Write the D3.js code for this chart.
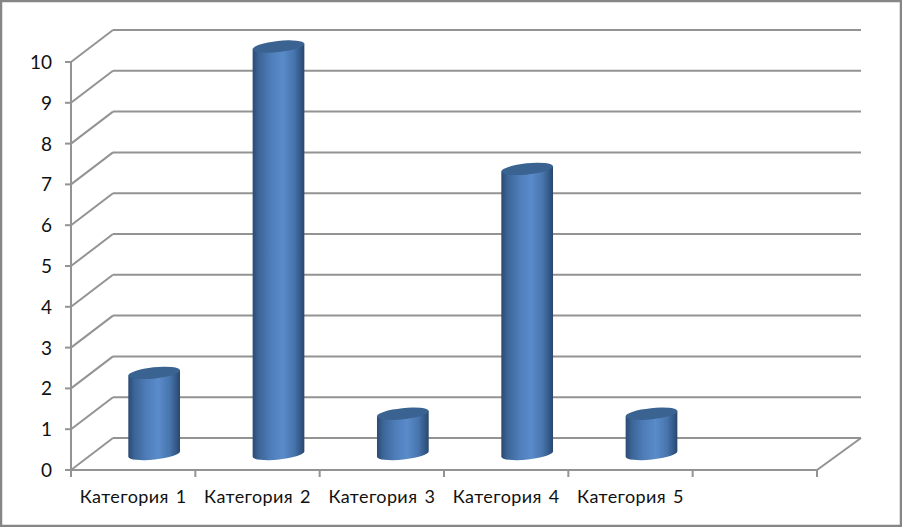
<!DOCTYPE html>
<html><head><meta charset="utf-8">
<script src="https://cdnjs.cloudflare.com/ajax/libs/d3/7.8.5/d3.min.js"></script>
<style>html,body{margin:0;padding:0;background:#fff}svg{display:block}text{font-family:Lato,"Open Sans",sans-serif;fill:#111}</style>
</head><body><svg id="c" width="902" height="527"></svg>
<script>
const categories=["Категория 1","Категория 2","Категория 3","Категория 4","Категория 5",""];
const values=[2,10,1,7,1];
const yTicks=[0,1,2,3,4,5,6,7,8,9,10];
const W=902,H=527,left=71,right=817,y0=470,y10=62,dx=42,dy=32,line="#939393";
const svg=d3.select("#c");
const x=d3.scaleBand().domain(categories.map((c,i)=>i)).range([left,right]);
const y=d3.scaleLinear().domain([0,10]).range([y0,y10]);
const defs=svg.append("defs");
const g=defs.append("linearGradient").attr("id","cyl");
[[0,"#2b4a73"],[.12,"#3c6597"],[.35,"#4e7db9"],[.58,"#5a8bca"],[.8,"#4775ad"],[.94,"#315684"],[1,"#274769"]].forEach(s=>g.append("stop").attr("offset",s[0]).attr("stop-color",s[1]));
svg.append("rect").attr("x",1).attr("y",1).attr("width",W-2).attr("height",H-2).attr("fill","#fff").attr("stroke","#868686").attr("stroke-width",2.5);
const L=(a,b,c,d,w=2)=>svg.append("line").attr("x1",a).attr("y1",b).attr("x2",c).attr("y2",d).attr("stroke",line).attr("stroke-width",w);
yTicks.forEach(t=>{
  const p=y(t);
  L(left,p,left+dx,p-dy);
  L(left+dx,p-dy,right+dx+2,p-dy);
  L(left-6,p,left,p);
  svg.append("text").attr("x",52).attr("y",p+7).attr("text-anchor","end").attr("font-size",19).text(t);
});
L(left,y0,left,y10,2);
L(left,y0,right,y0,2);
L(right,y0,right+dx+2,y0-dy);
categories.forEach((c,i)=>{
  L(x(i),y0,x(i),y0+7,2);
  svg.append("text").attr("x",x(i)+x.bandwidth()/2).attr("y",503).attr("text-anchor","middle").attr("font-size",18).attr("letter-spacing",0.4).attr("word-spacing",2).text(c);
});
L(right,y0,right,y0+7,2);
const r=26,ry=5.6,tilt=-6,sx=r*Math.cos(tilt*Math.PI/180),sy=r*Math.sin(tilt*Math.PI/180);
values.forEach((v,i)=>{
  const cx=x(i)+x.bandwidth()/2+dx/2, by=y(0)-dy/2, ty=y(v)-dy/2+0.5;
  svg.append("path").attr("fill","url(#cyl)")
    .attr("d",`M${cx-sx},${ty-sy}L${cx-sx},${by-sy}A${r},${ry} ${tilt} 0 0 ${cx+sx},${by+sy}L${cx+sx},${ty+sy}Z`);
  svg.append("ellipse").attr("cx",0).attr("cy",0).attr("rx",r).attr("ry",ry).attr("fill","#3a6391")
    .attr("transform",`translate(${cx},${ty}) rotate(${tilt})`);
});
</script></body></html>
